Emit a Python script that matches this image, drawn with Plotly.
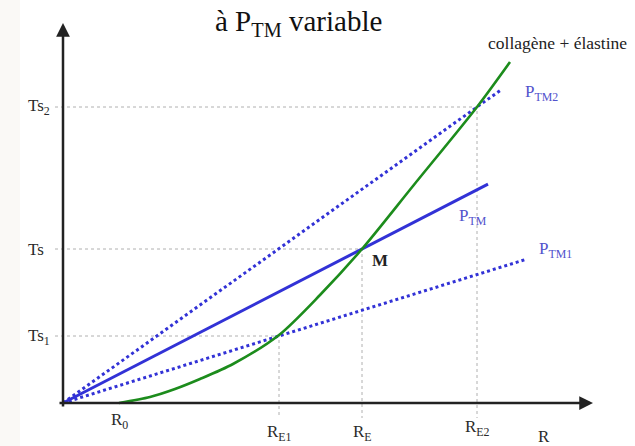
import plotly.graph_objects as go

# ---- data (arbitrary units; labels are symbolic) ----
r_names = ["R<sub>0</sub>", "R<sub>E1</sub>", "R<sub>E</sub>", "R<sub>E2</sub>"]
r_vals = [0.56, 2.16, 2.99, 4.14]
r_label_drop = [0.18, 0.30, 0.30, 0.25]

ts_names = ["Ts<sub>1</sub>", "Ts", "Ts<sub>2</sub>"]
ts_vals = [0.66, 1.54, 2.96]

# collagène + élastine tension curve
curve_r = [0.56, 0.87, 1.12, 1.37, 1.70, 2.16, 2.57, 2.99, 3.50, 4.14, 4.47]
curve_t = [0.00, 0.06, 0.14, 0.24, 0.39, 0.68, 1.08, 1.54, 2.17, 2.96, 3.41]

# Laplace lines T = P*R through the origin, crossing the curve at (RE*, Ts*)
line_names = ["P<sub>TM1</sub>", "P<sub>TM</sub>", "P<sub>TM2</sub>"]
line_cross_r = [2.16, 2.99, 4.14]
line_cross_t = [0.67, 1.54, 2.96]
line_end_r = [4.64, 4.25, 4.37]
line_dash = ["dot", "solid", "dot"]
line_label_pos = [(4.74, 1.53), (3.94, 1.86), (4.60, 3.10)]

BLUE = "#3232d6"
LBLUE = "#5252cc"
GREEN = "#1c8c1c"
SERIF = "Liberation Serif"

fig = go.Figure()

# dotted guide lines from each intersection to the axes
gx, gy = [], []
for r, t in zip(line_cross_r, line_cross_t):
    gx += [-0.08, r, r, None]
    gy += [t, t, -0.15, None]
fig.add_trace(go.Scatter(x=gx, y=gy, mode="lines",
                         line=dict(color="#b0b0b0", width=1, dash="dot"),
                         hoverinfo="skip", showlegend=False))

# pressure lines
for name, rc, tc, re, dash in zip(line_names, line_cross_r, line_cross_t, line_end_r, line_dash):
    slope = tc / rc
    fig.add_trace(go.Scatter(x=[0, re], y=[0, slope * re], mode="lines",
                             line=dict(color=BLUE, width=3, dash=dash),
                             name=name, showlegend=False))

# collagen + elastin curve
fig.add_trace(go.Scatter(x=curve_r, y=curve_t, mode="lines",
                         line=dict(color=GREEN, width=2.6, shape="spline", smoothing=0.8),
                         name="collagène + élastine", showlegend=False))

ann = []
# axes as arrows
ann.append(dict(x=0, y=3.80, ax=0, ay=-0.05, xref="x", yref="y", axref="x", ayref="y",
                showarrow=True, arrowhead=2, arrowsize=1.1, arrowwidth=2.5,
                arrowcolor="#222222", text="", standoff=0))
ann.append(dict(x=5.30, y=0, ax=-0.05, ay=0, xref="x", yref="y", axref="x", ayref="y",
                showarrow=True, arrowhead=2, arrowsize=1.1, arrowwidth=2.5,
                arrowcolor="#222222", text="", standoff=0))

# y tick labels
for name, v in zip(ts_names, ts_vals):
    ann.append(dict(x=-0.37, y=v, xref="x", yref="y", text=name, showarrow=False,
                    xanchor="left", yanchor="middle",
                    font=dict(family=SERIF, size=17, color="#2a2a2a")))
# x tick labels
for name, v, d in zip(r_names, r_vals, r_label_drop):
    ann.append(dict(x=v, y=-d, xref="x", yref="y", text=name, showarrow=False,
                    xanchor="center", yanchor="middle",
                    font=dict(family=SERIF, size=17, color="#2a2a2a")))
# axis title
ann.append(dict(x=4.81, y=-0.33, xref="x", yref="y", text="R", showarrow=False,
                font=dict(family=SERIF, size=17, color="#2a2a2a")))

# line labels
for name, (lx, ly) in zip(line_names, line_label_pos):
    ann.append(dict(x=lx, y=ly, xref="x", yref="y", text=name, showarrow=False,
                    xanchor="left", yanchor="middle",
                    font=dict(family=SERIF, size=17, color=LBLUE)))

ann.append(dict(x=5.66, y=3.60, xref="x", yref="y", text="collagène + élastine",
                showarrow=False, xanchor="right", yanchor="middle",
                font=dict(family=SERIF, size=17.5, color="#222222")))
ann.append(dict(x=3.17, y=1.43, xref="x", yref="y", text="<b>M</b>",
                showarrow=False, font=dict(family=SERIF, size=17, color="#222222")))

# title
ann.append(dict(x=2.35, y=3.80, xref="x", yref="y", text="à P<sub>TM</sub> variable",
                showarrow=False, xanchor="center", yanchor="middle",
                font=dict(family=SERIF, size=29, color="#111111")))

fig.update_layout(
    width=635, height=446,
    margin=dict(l=0, r=0, t=0, b=0),
    paper_bgcolor="white", plot_bgcolor="white",
    font=dict(family=SERIF),
    xaxis=dict(visible=False, range=[-0.63, 5.72]),
    yaxis=dict(visible=False, range=[-0.43, 4.03]),
    annotations=ann,
    shapes=[dict(type="rect", xref="paper", yref="paper", x0=0, x1=20 / 635, y0=0, y1=1,
                 fillcolor="#faf9f6", line=dict(width=0), layer="below")],
)

fig.write_html("out.html")
